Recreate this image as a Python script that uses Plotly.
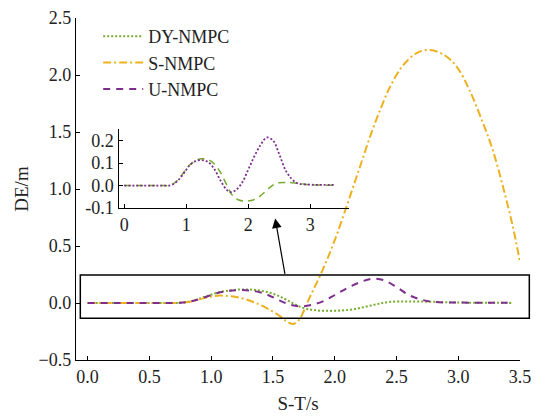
import plotly.graph_objects as go

# ---- data ----
t_dy = [0, 0.2, 0.4, 0.6, 0.75, 0.85, 0.95, 1.05, 1.15, 1.25, 1.35, 1.45, 1.55, 1.65,
        1.75, 1.85, 1.95, 2.05, 2.15, 2.25, 2.35, 2.45, 2.6, 2.8, 3.0, 3.2, 3.43]
dy_nmpc = [0, 0, 0, 0, 0.002, 0.02, 0.055, 0.09, 0.11, 0.119, 0.115, 0.097, 0.06, 0.005,
           -0.045, -0.064, -0.069, -0.066, -0.055, -0.033, -0.008, 0.01, 0.014, 0.01,
           0.004, 0.002, 0.001]

t_s = [0, 0.2, 0.4, 0.6, 0.75, 0.85, 0.95, 1.05, 1.15, 1.25, 1.35, 1.45, 1.55, 1.61,
       1.66, 1.71, 1.75, 1.79, 1.89, 1.99, 2.10, 2.20, 2.29, 2.37, 2.45, 2.55, 2.66,
       2.76, 2.88, 2.99, 3.09, 3.20, 3.28, 3.36, 3.44, 3.50]
s_nmpc = [0, 0, 0, 0, 0.002, 0.015, 0.045, 0.064, 0.06, 0.042, 0.005, -0.045, -0.11,
          -0.16, -0.185, -0.15, -0.07, 0.03, 0.26, 0.52, 0.86, 1.18, 1.47, 1.70, 1.90,
          2.08, 2.19, 2.22, 2.18, 2.07, 1.87, 1.58, 1.34, 1.03, 0.68, 0.36]

t_u = [0, 0.2, 0.4, 0.6, 0.75, 0.85, 0.95, 1.05, 1.15, 1.25, 1.35, 1.45, 1.55, 1.65,
       1.72, 1.8, 1.9, 2.0, 2.1, 2.2, 2.3, 2.4, 2.5, 2.6, 2.7, 2.8, 3.0, 3.2, 3.4]
u_nmpc = [0, 0, 0, 0, 0.002, 0.018, 0.05, 0.088, 0.108, 0.113, 0.105, 0.075, 0.024,
          -0.018, -0.029, -0.02, 0.012, 0.07, 0.13, 0.18, 0.213, 0.2, 0.14, 0.07, 0.03,
          0.01, 0.004, 0.003, 0.003]

x_ticks = [0, 0.5, 1.0, 1.5, 2.0, 2.5, 3.0, 3.5]
y_ticks = [-0.5, 0, 0.5, 1.0, 1.5, 2.0, 2.5]
inset_x_ticks = [0, 1, 2, 3]
inset_y_ticks = [-0.1, 0, 0.1, 0.2]
inset_y_labels = ["-0.1", "0.0", "0.1", "0.2"]

GREEN = "#77AC30"
ORANGE = "#EDB120"
PURPLE = "#7E2F8E"
FONT = "Liberation Serif"

fig = go.Figure()
fig.add_trace(go.Scatter(x=t_dy, y=dy_nmpc, mode="lines", name="DY-NMPC",
                         line=dict(color=GREEN, width=2, dash="2px,2px", shape="spline")))
fig.add_trace(go.Scatter(x=t_s, y=s_nmpc, mode="lines", name="S-NMPC",
                         line=dict(color=ORANGE, width=2, dash="8px,3px,2px,3px", shape="spline")))
fig.add_trace(go.Scatter(x=t_u, y=u_nmpc, mode="lines", name="U-NMPC",
                         line=dict(color=PURPLE, width=2, dash="7px,6px", shape="spline")))

# inset
fig.add_trace(go.Scatter(x=t_dy, y=dy_nmpc, mode="lines", showlegend=False,
                         xaxis="x2", yaxis="y2",
                         line=dict(color=GREEN, width=1.5, dash="7px,5px", shape="spline")))
fig.add_trace(go.Scatter(x=t_u, y=u_nmpc, mode="lines", showlegend=False,
                         xaxis="x2", yaxis="y2",
                         line=dict(color=PURPLE, width=1.8, dash="2px,2px", shape="spline")))

axis_common = dict(showgrid=False, zeroline=False, showline=True, linecolor="black",
                   linewidth=1.3, ticks="inside", ticklen=4, tickcolor="black",
                   tickfont=dict(family=FONT, size=18, color="#222"))

fig.update_layout(
    width=538, height=420,
    margin=dict(l=76, r=18, t=18, b=60),
    paper_bgcolor="white", plot_bgcolor="rgba(0,0,0,0)",
    font=dict(family=FONT, color="#222"),
    xaxis=dict(range=[-0.094, 3.5], tickvals=x_ticks, tickformat=".1f",
               title=dict(text="S-T/s", font=dict(family=FONT, size=19), standoff=10),
               automargin=False, **axis_common),
    yaxis=dict(range=[-0.5, 2.5], tickvals=y_ticks, tickformat=".1f",
               title=dict(text="DE/m", font=dict(family=FONT, size=19), standoff=4),
               automargin=False, **axis_common),
    xaxis2=dict(domain=[0.096, 0.614], anchor="y2", range=[-0.09, 3.62],
                tickvals=inset_x_ticks, automargin=False, **axis_common),
    yaxis2=dict(domain=[0.444, 0.675], anchor="x2", range=[-0.1, 0.25],
                tickvals=inset_y_ticks, ticktext=inset_y_labels,
                automargin=False, **axis_common),
    legend=dict(x=0.05, y=1.0, xanchor="left", yanchor="top",
                bgcolor="rgba(0,0,0,0)", itemwidth=40,
                font=dict(family=FONT, size=18, color="#222")),
    showlegend=True,
)

# zoom rectangle
fig.add_shape(type="rect", xref="paper", yref="paper",
              x0=0.0097, x1=1.021, y0=0.122, y1=0.2485,
              line=dict(color="black", width=1.5))
# arrow pointing to inset
fig.add_annotation(xref="paper", yref="paper", x=0.4486, y=0.414, ax=10, ay=57,
                   text="", showarrow=True, arrowhead=2, arrowsize=1.6,
                   arrowwidth=1.2, arrowcolor="black")

fig.write_html("out.html")
